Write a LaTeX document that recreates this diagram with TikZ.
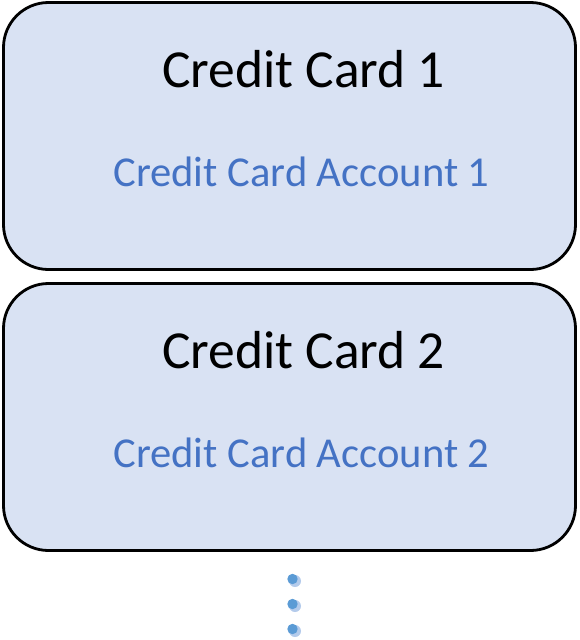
\documentclass[tikz,border=0pt]{standalone}
\usepackage{fontspec}
\setmainfont{Carlito}
\usepackage{tikz}
\usetikzlibrary{positioning, calc}

\definecolor{cardfill}{HTML}{D9E2F3}
\definecolor{accountblue}{HTML}{4472C4}
\definecolor{dotblue}{HTML}{5B9BD5}
\definecolor{dotshadow}{HTML}{B4CBEB}

\tikzset{
    cardbox/.style={draw=black, line width=2.8pt, fill=cardfill, rounded corners=45pt,
        minimum width=572pt, minimum height=267pt, inner sep=0pt},
    cardtitle/.style={anchor=base, font=\fontsize{53.5}{60}\selectfont, text=black, inner sep=0pt},
    cardaccount/.style={anchor=base, font=\fontsize{42.6}{50}\selectfont, text=accountblue, inner sep=0pt}
}

\begin{document}
\begin{tikzpicture}[x=1pt, y=-1pt]
    \def\boxgap{281}

    % page frame
    \useasboundingbox (0,0) rectangle (579,640);

    % cards
    \foreach \i in {1,2}
    {
        \node[cardbox] (card\i) at (289.5, {136 + (\i-1)*\boxgap}) {};
        \node[cardtitle] (title\i) at (303.5, {87 + (\i-1)*\boxgap}) {Credit Card \i};
        \node[cardaccount] (account\i) at (301.5, {186 + (\i-1)*\boxgap}) {Credit Card Account \i};
    }

    % more cards follow
    \foreach \y in {579,604,629}
    {
        \fill[dotshadow] (295, \y + 2) circle (6pt);
        \fill[dotblue] (292.5, \y) circle (5.2pt);
    }
\end{tikzpicture}
\end{document}
